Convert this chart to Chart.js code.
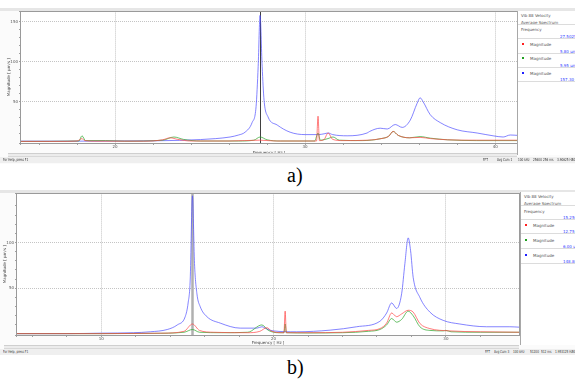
<!DOCTYPE html>
<html>
<head>
<meta charset="utf-8">
<script src="https://cdn.jsdelivr.net/npm/chart.js@4.4.1/dist/chart.umd.min.js"></script>
<style>
  body { margin: 0; width: 575px; height: 381px; background: #fff; position: relative; overflow: hidden; font-family: 'DejaVu Sans', sans-serif; }
  .band { position: absolute; left: 0; width: 575px; background: #e6e6e6; }
  .shot { position: absolute; left: 0; width: 575px; background: #fbfbfb; }
  canvas { position: absolute; left: 0; }
  .side { position: absolute; background: #fff; border-left: 1px solid #a8a8a8; overflow: hidden; }
  .side div { position: absolute; white-space: nowrap; font-size: 4px; line-height: 5px; color: #555; }
  .side .val { color: #3040ff; left: 42px; }
  .side .sq { width: 2px; height: 2px; }
  .side .sep { height: 0; left: 0; width: 60px; border-top: 1px solid #dcdcdc; }
  .scroll { position: absolute; height: 2px; background: #ececec; border-top: 1px solid #cfcfcf; border-bottom: 1px solid #d8d8d8; }
  .status { position: absolute; left: 0; width: 575px; height: 6px; background: #efefef; overflow: hidden; }
  .status span { position: absolute; top: 0; font-size: 4px; line-height: 6px; color: #333; white-space: nowrap; transform: scaleX(0.7); transform-origin: 0 50%; }
  .cap { position: absolute; font-family: 'Liberation Serif', serif; font-size: 20px; line-height: 20px; color: #000; }
</style>
</head>
<body>
<script>
// panel a) : frequency [Hz] and magnitude [um/s]
const aRedHz = [15, 17, 18.0, 18.26, 18.4, 19, 21.5, 22.5, 22.9, 23.3, 24, 26, 27.6, 28.5, 30.6, 30.68, 30.75, 31.0, 31.21, 31.45, 32, 33.3, 34, 34.4, 34.63, 34.9, 35.5, 36.05, 36.6, 37.5, 39, 41.2];
const aRedMag = [0.5, 0.5, 1, 4, 1.5, 0.8, 0.8, 2.5, 5, 3, 1, 1, 2, 1, 1, 32, 1.5, 3, 11, 3, 1.5, 2, 4, 7, 13, 8, 5, 5.5, 4, 2.5, 2, 2];
const aGreenHz = [15, 18.1, 18.26, 18.45, 19.5, 20.5, 22.5, 23.1, 23.6, 24.5, 26.5, 27.3, 27.63, 28.0, 28.7, 30.5, 30.68, 30.8, 31.2, 31.47, 31.8, 33, 34, 34.4, 34.63, 34.9, 35.5, 36.05, 36.6, 37.5, 39, 41.2];
const aGreenMag = [0.5, 1, 7.5, 1.5, 1.5, 0.8, 2, 6, 3, 1, 1, 2, 6, 2.5, 1, 1, 11, 2, 4, 6, 2, 1.5, 4, 7, 13, 8, 5, 6.5, 4.5, 2.5, 1.5, 1.5];
const aBlueHz = [15.0, 18.0, 20.0, 22.0, 23.4, 24.5, 25.3, 26.05, 26.5, 26.84, 27.21, 27.42, 27.53, 27.63, 27.74, 27.84, 28.05, 28.53, 29.21, 30.0, 30.7, 31.0, 31.21, 31.45, 32.21, 33.26, 33.4, 33.95, 34.32, 34.74, 35.11, 35.53, 35.89, 36.05, 36.21, 36.58, 37.11, 38.0, 39.05, 39.89, 40.42, 40.79, 41.2];
const aBlueMag = [0.8, 0.8, 1.0, 1.2, 1.8, 2.8, 4, 6, 8.5, 12, 24, 44, 94, 158, 94, 52, 31, 21, 12, 9, 9, 10, 11, 9, 7.5, 11, 13, 17, 16, 21.6, 18, 27, 48, 55, 50, 34, 24, 15, 11, 7.5, 6, 8.5, 8];

// panel b)
const bRedHz = [5.05, 10, 13.5, 14.8, 15.29, 15.7, 16.5, 18.5, 19.2, 19.61, 19.9, 20.6, 20.67, 20.74, 22, 24, 25.5, 26.17, 26.56, 26.85, 27.14, 27.43, 27.81, 28.1, 28.49, 29.07, 30.2, 32, 34.29];
const bRedMag = [0.5, 0.5, 1, 3, 11, 4, 2, 1.5, 3, 7, 3, 1.5, 25, 1.5, 1.5, 2, 4, 6, 12, 23, 19, 22, 26, 24, 11.6, 6, 3.5, 2.5, 2];
const bGreenHz = [5.05, 10, 13, 14.8, 15.29, 15.7, 17, 18.5, 19.32, 19.7, 20.3, 20.6, 20.67, 20.74, 22, 24, 25.5, 26.17, 26.56, 26.85, 27.14, 27.43, 27.81, 28.1, 28.49, 29.07, 29.84, 30.0, 30.3, 32, 34.29];
const bGreenMag = [0.5, 0.5, 0.8, 2, 5, 2, 1.5, 2, 10, 4, 1.5, 1.5, 11, 1.5, 1.2, 1.5, 3, 5, 10, 17, 13, 16, 25, 20, 8, 4, 3.5, 4, 2.5, 2, 2];
const bBlueHz = [5.05, 8, 10, 11.86, 12.84, 13.83, 14.41, 14.87, 15.04, 15.16, 15.29, 15.41, 15.55, 15.74, 16.13, 16.9, 18.06, 19.03, 19.32, 19.61, 19.97, 21.34, 23.28, 24.82, 26.17, 26.56, 26.85, 27.14, 27.43, 27.62, 27.81, 27.95, 28.1, 28.49, 29.07, 29.84, 30.81, 32.36, 33.71, 34.29];
const bBlueMag = [0.5, 0.5, 1, 1.5, 2.5, 5, 10, 19, 34, 59, 151, 77, 44, 30, 19, 12, 6.5, 6.5, 8, 5.5, 3.5, 2.5, 4.3, 8, 14, 23, 34, 28, 44, 77, 105, 91, 62, 40, 24, 15, 11, 8, 8, 7.5];

const aTicks = [20, 30, 40];
const bTicks = [10, 20, 30];
const yTicks = [0, 50, 100, 150];
const aCursorHz = 27.63;
const bCursorHz = 15.29;

const RED = 'rgba(255,70,70,0.7)';
const GREEN = 'rgba(40,165,40,0.7)';
const BLUE = 'rgba(80,80,255,0.7)';

function pts(hz, mag) {
  return hz.map((x, i) => ({ x, y: mag[i] }));
}

// plot background, frame and the cursor line of the analyser
const framePlugin = {
  id: 'frame',
  beforeDraw(chart) {
    const { ctx, chartArea: a } = chart;
    ctx.save();
    ctx.fillStyle = '#fff';
    ctx.fillRect(a.left, a.top, a.width, a.height);
    ctx.restore();
  },
  beforeDatasetsDraw(chart, args, opts) {
    const { ctx, chartArea: a, scales } = chart;
    const x = Math.round(scales.x.getPixelForValue(opts.cursor)) + 0.5;
    ctx.save();
    ctx.strokeStyle = opts.cursorColor;
    ctx.lineWidth = opts.cursorWidth;
    ctx.beginPath();
    ctx.moveTo(x, a.top);
    ctx.lineTo(x, a.bottom);
    ctx.stroke();
    ctx.restore();
  },
  afterDraw(chart) {
    const { ctx, chartArea: a } = chart;
    ctx.save();
    ctx.strokeStyle = '#9a9a9a';
    ctx.lineWidth = 1;
    ctx.strokeRect(Math.round(a.left) + 0.5, Math.round(a.top) + 0.5, Math.round(a.width) - 1, Math.round(a.height));
    ctx.restore();
  }
};

function spectrum(id, s) {
  const small = { size: 4, family: 'DejaVu Sans' };
  return new Chart(document.getElementById(id), {
    type: 'line',
    data: {
      datasets: [
        { data: pts(s.redHz, s.redMag), borderColor: RED },
        { data: pts(s.greenHz, s.greenMag), borderColor: GREEN },
        { data: pts(s.blueHz, s.blueMag), borderColor: BLUE }
      ]
    },
    plugins: [framePlugin],
    options: {
      responsive: false,
      animation: false,
      events: [],
      layout: { padding: { top: s.padTop, right: 1, left: s.padLeft, bottom: 0 } },
      elements: {
        point: { radius: 0 },
        line: { borderWidth: 1, cubicInterpolationMode: 'monotone', fill: false }
      },
      plugins: {
        legend: { display: false },
        tooltip: { enabled: false },
        frame: { cursor: s.cursor, cursorColor: s.cursorColor, cursorWidth: s.cursorWidth }
      },
      scales: {
        x: {
          type: 'linear',
          min: s.xMin,
          max: s.xMax,
          afterFit: sc => { sc.height = s.xAxisH; },
          ticks: {
            stepSize: 2, autoSkip: false, maxRotation: 0, padding: 0,
            font: small, color: '#555',
            callback: v => s.ticks.includes(v) ? String(v) : ''
          },
          grid: {
            color: c => c.tick && s.ticks.includes(c.tick.value) ? '#c4c4c4' : 'rgba(0,0,0,0)',
            tickColor: '#a0a0a0', tickLength: 2
          },
          border: { display: false, dash: [1, 1] },
          title: { display: true, text: 'Frequency [ Hz ]', font: small, color: '#444', padding: 0 }
        },
        y: {
          min: s.yMin,
          max: s.yMax,
          afterFit: sc => { sc.width = s.yAxisW; },
          ticks: {
            stepSize: 10, autoSkip: false, padding: 1,
            font: small, color: '#555',
            callback: v => yTicks.includes(v) ? String(v) : ''
          },
          grid: {
            color: c => c.tick && c.tick.value > 0 && yTicks.includes(c.tick.value) ? '#c4c4c4' : 'rgba(0,0,0,0)',
            tickColor: '#a0a0a0', tickLength: 1
          },
          border: { display: false, dash: [1, 1] },
          title: { display: true, text: 'Magnitude [ µm/s ]', font: small, color: '#444', padding: 0 }
        }
      }
    }
  });
}
</script>

<!-- panel a -->
<div class="shot" style="top:8px;height:156px"></div>
<div class="band" style="top:8px;height:3px"></div>
<canvas id="chartA" width="519" height="147" style="top:8px"></canvas>
<div class="side" style="left:517px;top:11px;width:58px;height:144px">
  <div style="left:3px;top:1.5px">Vib 88 Velocity</div>
  <div style="left:3px;top:8.5px">Average Spectrum</div>
  <div class="sep" style="top:13px"></div>
  <div style="left:3px;top:15.5px">Frequency</div>
  <div class="val" style="top:22.5px">27.5025 Hz</div>
  <div class="sep" style="top:27px"></div>
  <div class="sq" style="left:4px;top:32px;background:#ff2020"></div>
  <div style="left:12px;top:30.5px">Magnitude</div>
  <div class="val" style="top:37.5px">5.80 µm/s</div>
  <div class="sep" style="top:42px"></div>
  <div class="sq" style="left:4px;top:46px;background:#20a020"></div>
  <div style="left:12px;top:44.5px">Magnitude</div>
  <div class="val" style="top:51.5px">5.95 µm/s</div>
  <div class="sep" style="top:56px"></div>
  <div class="sq" style="left:4px;top:61px;background:#2020ff"></div>
  <div style="left:12px;top:59.5px">Magnitude</div>
  <div class="val" style="top:65.5px">157.30 µm/s</div>
  <div class="sep" style="top:70px"></div>
</div>
<div class="scroll" style="left:8px;top:153px;width:509px"></div>
<div class="status" style="top:157px">
  <span style="left:3px">For Help, press F1</span>
  <span style="left:483px">FFT</span>
  <span style="left:497px">Avg Cum 1</span>
  <span style="left:518px">100 kHz</span>
  <span style="left:533px">25600</span>
  <span style="left:543px">256 ms</span>
  <span style="left:557px">3.90625 Hz</span>
  <span style="left:572px">50 ms</span>
</div>
<div class="cap" style="left:287px;top:165px">a)</div>

<!-- panel b -->
<div class="shot" style="top:190px;height:165px"></div>
<div class="band" style="top:190px;height:3px"></div>
<canvas id="chartB" width="521" height="155" style="top:190px"></canvas>
<div class="side" style="left:520px;top:192px;width:55px;height:153px">
  <div style="left:3px;top:1.5px">Vib 88 Velocity</div>
  <div style="left:3px;top:8.5px">Average Spectrum</div>
  <div class="sep" style="top:13px"></div>
  <div style="left:3px;top:16.5px">Frequency</div>
  <div class="val" style="top:22.5px">15.2500 Hz</div>
  <div class="sep" style="top:27px"></div>
  <div class="sq" style="left:4px;top:32px;background:#ff2020"></div>
  <div style="left:12px;top:30.5px">Magnitude</div>
  <div class="val" style="top:36.5px">12.75 µm/s</div>
  <div class="sep" style="top:41px"></div>
  <div class="sq" style="left:4px;top:47px;background:#20a020"></div>
  <div style="left:12px;top:45.5px">Magnitude</div>
  <div class="val" style="top:51.5px">6.00 µm/s</div>
  <div class="sep" style="top:56px"></div>
  <div class="sq" style="left:4px;top:62px;background:#2020ff"></div>
  <div style="left:12px;top:60.5px">Magnitude</div>
  <div class="val" style="top:66.5px">148.80 µm/s</div>
  <div class="sep" style="top:71px"></div>
</div>
<div class="scroll" style="left:4px;top:345px;width:515px"></div>
<div class="status" style="top:349px">
  <span style="left:3px">For Help, press F1</span>
  <span style="left:485px">FFT</span>
  <span style="left:494px">Avg Cum 3</span>
  <span style="left:513px">100 kHz</span>
  <span style="left:530px">51200</span>
  <span style="left:541px">512 ms</span>
  <span style="left:555px">1.953125 Hz</span>
  <span style="left:572px">50 ms</span>
</div>
<div class="cap" style="left:287px;top:357px">b)</div>

<script>
spectrum('chartA', {
  redHz: aRedHz, redMag: aRedMag, greenHz: aGreenHz, greenMag: aGreenMag, blueHz: aBlueHz, blueMag: aBlueMag,
  ticks: aTicks, xMin: 15, xMax: 41.2, yMin: -1.5, yMax: 163,
  padTop: 3, padLeft: 7, xAxisH: 12, yAxisW: 13,
  cursor: aCursorHz, cursorColor: '#404040', cursorWidth: 1
});
spectrum('chartB', {
  redHz: bRedHz, redMag: bRedMag, greenHz: bGreenHz, greenMag: bGreenMag, blueHz: bBlueHz, blueMag: bBlueMag,
  ticks: bTicks, xMin: 5.05, xMax: 34.3, yMin: -1, yMax: 153.6,
  padTop: 3, padLeft: 3, xAxisH: 10, yAxisW: 13,
  cursor: bCursorHz, cursorColor: '#b0b0b0', cursorWidth: 2.5
});
</script>
</body>
</html>
